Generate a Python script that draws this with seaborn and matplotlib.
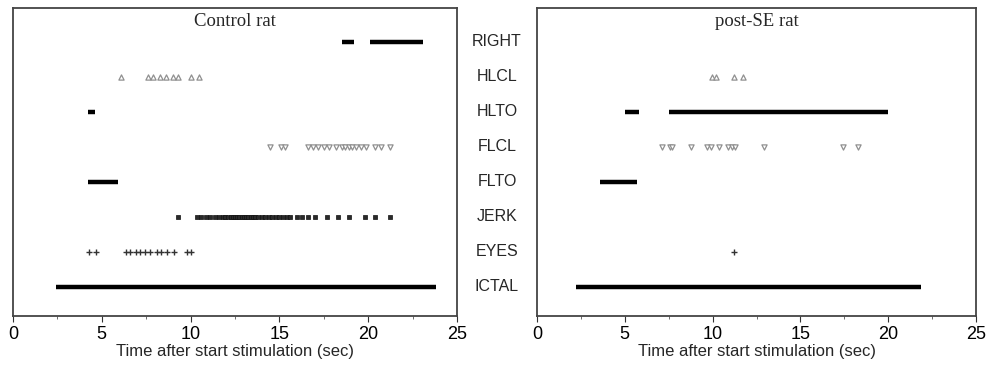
import numpy as np
import pandas as pd
import matplotlib
matplotlib.use("Agg")
import matplotlib.pyplot as plt
import matplotlib.transforms as mtransforms
import seaborn as sns

# ---------------------------------------------------------------------------
# Data (seconds after start of stimulation)
# ---------------------------------------------------------------------------
rows = ["ICTAL", "EYES", "JERK", "FLTO", "FLCL", "HLTO", "HLCL", "RIGHT"]
panel_titles = ["Control rat", "post-SE rat"]

# continuous behaviours drawn as bars: (row, start, end)
ctrl_segments = [
    ("RIGHT", 18.5, 19.2), ("RIGHT", 20.1, 23.1),
    ("HLTO", 4.2, 4.6),
    ("FLTO", 4.2, 5.9),
    ("ICTAL", 2.4, 23.8),
]
se_segments = [
    ("HLTO", 5.0, 5.8), ("HLTO", 7.5, 20.0),
    ("FLTO", 3.6, 5.7),
    ("ICTAL", 2.2, 21.85),
]

# discrete events
ctrl_hlcl = [6.1, 7.6, 7.9, 8.3, 8.6, 9.0, 9.3, 10.0, 10.5]
ctrl_flcl = [14.45, 15.1, 15.3, 16.6, 16.9, 17.2, 17.5, 17.8, 18.2, 18.5,
             18.7, 18.9, 19.1, 19.3, 19.6, 19.9, 20.4, 20.7, 21.2]
ctrl_jerk = [9.3, 10.35, 10.6, 10.85, 11.1, 11.35, 11.6, 11.8, 11.95, 12.1,
             12.25, 12.4, 12.5, 12.6, 12.75, 12.9, 13.0, 13.1, 13.25, 13.4,
             13.5, 13.65, 13.8, 14.0, 14.2, 14.4, 14.6, 14.8, 15.0, 15.2,
             15.4, 15.6, 16.0, 16.3, 16.6, 17.0, 17.7, 18.3, 18.9, 19.8,
             20.4, 21.25]
ctrl_eyes = [4.3, 4.65, 6.35, 6.6, 6.9, 7.15, 7.45, 7.7, 8.1, 8.35, 8.65,
             9.05, 9.8, 10.05]

se_hlcl = [9.95, 10.2, 11.2, 11.75]
se_flcl = [7.1, 7.55, 7.7, 8.75, 9.7, 9.9, 10.35, 10.9, 11.1, 11.3, 12.9,
           17.4, 18.3]
se_jerk = []
se_eyes = [11.2]

xticks = [0, 5, 10, 15, 20, 25]


def events_frame(hlcl, flcl, jerk, eyes):
    parts = []
    for name, vals in [("HLCL", hlcl), ("FLCL", flcl), ("JERK", jerk), ("EYES", eyes)]:
        parts.append(pd.DataFrame({"time": vals, "behaviour": name}))
    df = pd.concat(parts, ignore_index=True)
    df["row"] = df["behaviour"].map({r: i for i, r in enumerate(rows)})
    return df


# ---------------------------------------------------------------------------
# Figure
# ---------------------------------------------------------------------------
sns.set_style("white")
plt.rcParams["font.family"] = ["Liberation Sans Narrow", "Liberation Sans", "DejaVu Sans"]

fig = plt.figure(figsize=(9.89, 3.72), dpi=100)
W, H = 989, 372
ax_l = fig.add_axes([13 / W, 56 / H, 444 / W, 308 / H])
ax_r = fig.add_axes([537 / W, 56 / H, 439 / W, 308 / H])

markers = {"HLCL": "^", "FLCL": "v", "JERK": "s", "EYES": "+"}
sizes = {"HLCL": 14, "FLCL": 14, "JERK": 9, "EYES": 22}
colors = {"HLCL": "#909090", "FLCL": "#909090", "JERK": "#2a2a2a", "EYES": "#333333"}

datasets = [
    (ax_l, ctrl_segments, events_frame(ctrl_hlcl, ctrl_flcl, ctrl_jerk, ctrl_eyes)),
    (ax_r, se_segments, events_frame(se_hlcl, se_flcl, se_jerk, se_eyes)),
]

for (ax, segs, ev), title in zip(datasets, panel_titles):
    seg_df = pd.DataFrame(segs, columns=["behaviour", "start", "end"])
    seg_df["row"] = seg_df["behaviour"].map({r: i for i, r in enumerate(rows)})
    ax.hlines(seg_df["row"], seg_df["start"], seg_df["end"], color="black",
              linewidth=3.2, capstyle="butt")

    for name, sub in ev.groupby("behaviour"):
        if sub.empty:
            continue
        if name in ("HLCL", "FLCL"):
            kw = dict(color="white", edgecolor=colors[name], linewidth=0.9)
        elif name == "EYES":
            kw = dict(color=colors[name], linewidth=1.0)
        else:
            kw = dict(color=colors[name], edgecolor="#111111", linewidth=0.5)
        sns.scatterplot(data=sub, x="time", y="row", ax=ax, marker=markers[name],
                        s=sizes[name], legend=False, zorder=3, **kw)

    ax.set_xlim(0, 25)
    ax.set_ylim(-0.83, 7.97)
    ax.set_yticks([])
    ax.set_xticks(xticks)
    ax.set_xticks(np.arange(2.5, 25, 5), minor=True)
    ax.set_xticklabels([str(t) for t in xticks], fontsize=13)
    ax.tick_params(axis="x", which="major", direction="out", length=4, width=0.8,
                   bottom=True, pad=3, colors="#333333", labelcolor="black")
    ax.tick_params(axis="x", which="minor", direction="out", length=2.5, width=0.6,
                   bottom=True, colors="#555555")
    ax.set_xlabel("Time after start stimulation (sec)", fontsize=12, labelpad=1)
    ax.set_ylabel("")
    for sp in ax.spines.values():
        sp.set_visible(True)
        sp.set_color("#444444")
        sp.set_linewidth(1.3)
    ax.text(0.5, 0.985, title, transform=ax.transAxes, ha="center", va="top",
            fontsize=13.5, family=["Liberation Serif", "DejaVu Serif"])

# behaviour labels in the gutter between the panels
trans = mtransforms.blended_transform_factory(fig.transFigure, ax_l.transData)
for i, r in enumerate(rows):
    fig.text(497 / W, i, r, transform=trans, ha="center", va="center",
             fontsize=11.5, family=["Liberation Sans", "DejaVu Sans"])

fig.savefig("out.png", dpi=100)
